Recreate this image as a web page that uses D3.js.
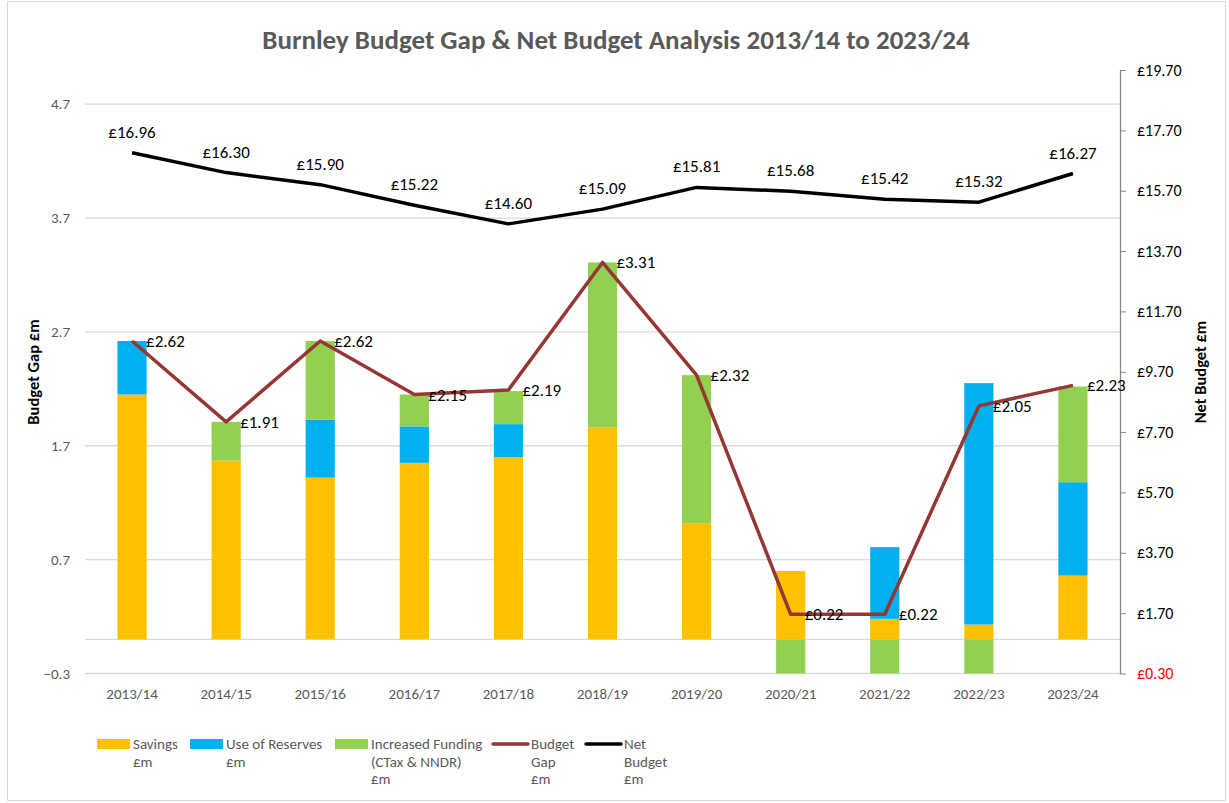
<!DOCTYPE html>
<html>
    <head>
        <meta charset="UTF-8">
        <script src="https://d3js.org/d3.v7.min.js"></script>
        <style>
            body { margin: 0; background: #fff; }
            text { font-family: Calibri, Carlito, Lato, sans-serif; }
        </style>
    </head>

    <body>

        <svg id="canvas"></svg>

        <script>

            width = 1229;
            height = 803;

            years = ["2013/14", "2014/15", "2015/16", "2016/17", "2017/18", "2018/19",
                     "2019/20", "2020/21", "2021/22", "2022/23", "2023/24"];
            savings = [2.15, 1.57, 1.42, 1.55, 1.60, 1.86, 1.02, 0.60, 0.18, 0.13, 0.56];
            reserves = [0.47, 0, 0.51, 0.32, 0.29, 0, 0, 0, 0.63, 2.12, 0.82];
            funding = [0, 0.34, 0.69, 0.28, 0.29, 1.45, 1.30, -0.38, -0.59, -0.35, 0.84];
            budgetGap = [2.62, 1.91, 2.62, 2.15, 2.19, 3.31, 2.32, 0.22, 0.22, 2.05, 2.23];
            netBudget = [16.96, 16.30, 15.90, 15.22, 14.60, 15.09, 15.81, 15.68, 15.42, 15.32, 16.27];
            leftTicks = [-0.3, 0.7, 1.7, 2.7, 3.7, 4.7];
            rightTicks = [-0.3, 1.7, 3.7, 5.7, 7.7, 9.7, 11.7, 13.7, 15.7, 17.7, 19.7];

            keys = ["savings", "reserves", "funding"];
            colors = {savings: "#FFC000", reserves: "#00B0F0", funding: "#92D050"};

            rows = years.map((y, i) => ({year: y, savings: savings[i], reserves: reserves[i], funding: funding[i]}));

            plot = {left: 85, right: 1120, top: 70, bottom: 673.5};

            canvas = d3.select("#canvas")
                .attr("width", width)
                .attr("height", height);

            // outer chart border
            canvas.append("rect")
                .attr("x", 7.5).attr("y", 1.5)
                .attr("width", 1218).attr("height", 799)
                .attr("fill", "none")
                .attr("stroke", "#d9d9d9");

            canvas.append("text")
                .attr("x", 616).attr("y", 49)
                .attr("text-anchor", "middle")
                .style("font-size", "27px")
                .style("font-weight", "bold")
                .style("fill", "#595959")
                .text("Burnley Budget Gap & Net Budget Analysis 2013/14 to 2023/24");

            x = d3.scaleBand()
                .domain(years)
                .range([plot.left, plot.right]);

            yLeft = d3.scaleLinear()
                .domain([-0.3, 5.0])
                .range([plot.bottom, plot.top]);

            yRight = d3.scaleLinear()
                .domain([-0.3, 19.7])
                .range([plot.bottom, plot.top]);

            // gridlines
            canvas.append("g")
                .selectAll("line")
                .data(leftTicks.concat([0]))
                .enter()
                    .append("line")
                        .attr("x1", plot.left).attr("x2", plot.right)
                        .attr("y1", d => yLeft(d)).attr("y2", d => yLeft(d))
                        .attr("stroke", "#d9d9d9")
                        .attr("stroke-width", 1.3);

            // left axis (labels only)
            leftAxis = canvas.append("g")
                .attr("transform", "translate(" + plot.left + ",0)")
                .call(d3.axisLeft(yLeft).tickValues(leftTicks).tickSize(0).tickPadding(15).tickFormat(d3.format(".1f")));
            leftAxis.select(".domain").remove();
            leftAxis.selectAll("text")
                .style("font-size", "15px")
                .style("fill", "#595959");

            // right axis
            rightAxis = canvas.append("g")
                .attr("transform", "translate(" + plot.right + ",0)")
                .call(d3.axisRight(yRight).tickValues(rightTicks).tickSizeInner(6).tickSizeOuter(0).tickPadding(11)
                    .tickFormat(d => "£" + Math.abs(d).toFixed(2)));
            rightAxis.select(".domain").attr("stroke", "#868686").attr("stroke-width", 1.3);
            rightAxis.selectAll("line").attr("stroke", "#868686");
            rightAxis.selectAll("text")
                .style("font-size", "16px")
                .style("fill", d => d < 0 ? "#FF0000" : "#000");

            // category labels
            canvas.append("g")
                .selectAll("text")
                .data(years)
                .enter()
                    .append("text")
                        .attr("x", d => x(d) + x.bandwidth() / 2)
                        .attr("y", 699)
                        .attr("text-anchor", "middle")
                        .style("font-size", "15px")
                        .style("fill", "#595959")
                        .text(d => d);

            // axis titles
            canvas.append("text")
                .attr("transform", "translate(39,372) rotate(-90)")
                .attr("text-anchor", "middle")
                .style("font-size", "16.5px")
                .style("font-weight", "bold")
                .text("Budget Gap £m");

            canvas.append("text")
                .attr("transform", "translate(1206,372) rotate(-90)")
                .attr("text-anchor", "middle")
                .style("font-size", "16.5px")
                .style("font-weight", "bold")
                .text("Net Budget £m");

            // stacked bars
            canvas.append("clipPath").attr("id", "plotclip")
                .append("rect")
                    .attr("x", plot.left).attr("y", plot.top)
                    .attr("width", plot.right - plot.left).attr("height", plot.bottom - plot.top);

            stack = d3.stack().keys(keys).offset(d3.stackOffsetDiverging);
            barWidth = x.bandwidth() * 0.31;

            canvas.append("g")
                .attr("clip-path", "url(#plotclip)")
                .selectAll("g")
                .data(stack(rows))
                .enter()
                    .append("g")
                        .attr("fill", d => colors[d.key])
                        .selectAll("rect")
                        .data(d => d)
                        .enter()
                            .append("rect")
                                .attr("x", d => x(d.data.year) + (x.bandwidth() - barWidth) / 2)
                                .attr("width", barWidth)
                                .attr("y", d => yLeft(Math.max(d[0], d[1])))
                                .attr("height", d => Math.abs(yLeft(d[0]) - yLeft(d[1])));

            cx = (d, i) => x(years[i]) + x.bandwidth() / 2;

            // net budget line
            canvas.append("path")
                .datum(netBudget)
                .attr("fill", "none")
                .attr("stroke", "#000")
                .attr("stroke-width", 3.5)
                .attr("stroke-linejoin", "round")
                .attr("d", d3.line().x(cx).y(d => yRight(d)));

            canvas.append("g")
                .selectAll("text")
                .data(netBudget)
                .enter()
                    .append("text")
                        .attr("x", cx)
                        .attr("y", d => yRight(d) - 15)
                        .attr("text-anchor", "middle")
                        .style("font-size", "17px")
                        .text(d => "£" + d.toFixed(2));

            // budget gap line
            canvas.append("path")
                .datum(budgetGap)
                .attr("fill", "none")
                .attr("stroke", "#953735")
                .attr("stroke-width", 3.5)
                .attr("stroke-linejoin", "round")
                .attr("d", d3.line().x(cx).y(d => yLeft(d)));

            canvas.append("g")
                .selectAll("text")
                .data(budgetGap)
                .enter()
                    .append("text")
                        .attr("x", (d, i) => cx(d, i) + 14)
                        .attr("y", d => yLeft(d) + 6)
                        .style("font-size", "17px")
                        .text(d => "£" + d.toFixed(2));

            // legend
            legendItems = [
                {type: "rect", color: colors.savings, lines: ["Savings", "£m"], x: 97},
                {type: "rect", color: colors.reserves, lines: ["Use of Reserves", "£m"], x: 190},
                {type: "rect", color: colors.funding, lines: ["Increased Funding", "(CTax & NNDR)", "£m"], x: 335},
                {type: "line", color: "#953735", lines: ["Budget", "Gap", "£m"], x: 493},
                {type: "line", color: "#000", lines: ["Net", "Budget", "£m"], x: 586}
            ];

            legend = canvas.append("g")
                .selectAll("g")
                .data(legendItems)
                .enter()
                    .append("g")
                        .attr("transform", d => "translate(" + d.x + ",744)");

            legend.filter(d => d.type == "rect")
                .append("rect")
                    .attr("x", 0).attr("y", -5)
                    .attr("width", 33).attr("height", 10)
                    .attr("fill", d => d.color);

            legend.filter(d => d.type == "line")
                .append("line")
                    .attr("x1", 0).attr("x2", 35)
                    .attr("y1", 0).attr("y2", 0)
                    .attr("stroke", d => d.color)
                    .attr("stroke-width", 3.5)
                    .attr("stroke-linecap", "round");

            legend.each(function(d) {
                g = d3.select(this);
                d.lines.forEach((t, j) => {
                    g.append("text")
                        .attr("x", d.type == "rect" ? 36 : 38)
                        .attr("y", 5 + j * 17.5)
                        .style("font-size", "15px")
                        .style("fill", "#595959")
                        .text(t);
                });
            });

        </script>

    </body>

</html>
